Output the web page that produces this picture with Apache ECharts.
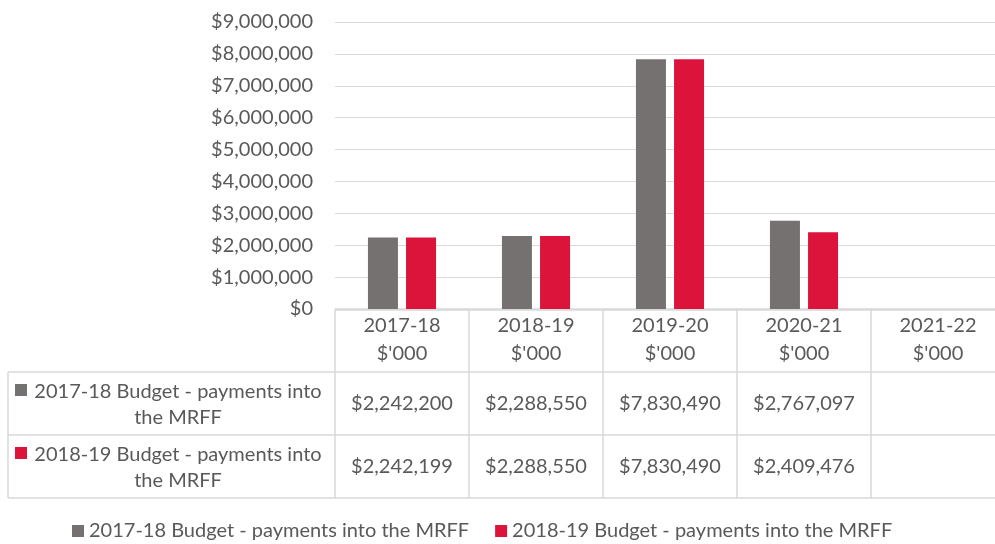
<!DOCTYPE html>
<html>
<head>
<meta charset="utf-8">
<script src="https://cdn.jsdelivr.net/npm/echarts@6/dist/echarts.min.js"></script>
<style>
  html, body { margin: 0; padding: 0; background: #fff; }
  #main { width: 995px; height: 544px; }
</style>
</head>
<body>
<div id="main"></div>
<script>
// data
var years = ['2017-18', '2018-19', '2019-20', '2020-21', '2021-22'];
var unitLabel = "$'000";
var seriesNames = [
  '2017-18 Budget - payments into the MRFF',
  '2018-19 Budget - payments into the MRFF'
];
var budget2017 = [2242200, 2288550, 7830490, 2767097, null];
var budget2018 = [2242199, 2288550, 7830490, 2409476, null];
var yMax = 9000000;
var yStep = 1000000;

var colors = ['#767171', '#DC143C'];
var textColor = '#595959';
var lineColor = '#d9d9d9';
var font = 'Lato';
var fontSize = 20;

function money(v) {
  if (v === null || v === undefined) return '';
  return '$' + v.toLocaleString('en-US');
}

var myChart = echarts.init(document.getElementById('main'));

var option = {
  animation: false,
  textStyle: { fontFamily: font },
  color: colors,
  // the table runs a little past the right edge, as in the original
  grid: { left: 335, top: 22, width: 670, height: 287, containLabel: false, outerBoundsMode: 'none' },
  legend: {
    left: 72,
    top: 521,
    padding: 0,
    icon: 'rect',
    itemWidth: 12,
    itemHeight: 12,
    itemGap: 26,
    textStyle: { color: textColor, fontSize: fontSize, fontFamily: font },
    data: seriesNames
  },
  xAxis: {
    type: 'category',
    data: years,
    axisTick: { show: false },
    axisLine: { show: true, lineStyle: { color: lineColor, width: 1.5 } },
    axisLabel: {
      color: textColor,
      fontSize: fontSize,
      lineHeight: 28,
      margin: 3,
      interval: 0,
      formatter: function (v) { return v + '\n' + unitLabel; }
    }
  },
  yAxis: {
    type: 'value',
    min: 0,
    max: yMax,
    interval: yStep,
    axisLine: { show: false },
    axisTick: { show: false },
    splitLine: { lineStyle: { color: lineColor, width: 1 } },
    axisLabel: {
      color: textColor,
      fontSize: fontSize,
      margin: 22,
      formatter: money
    }
  },
  series: [
    { name: seriesNames[0], type: 'bar', data: budget2017, barWidth: 30, barGap: '27%' },
    { name: seriesNames[1], type: 'bar', data: budget2018, barWidth: 30, barGap: '27%' }
  ]
};

myChart.setOption(option);

// data table under the axis, placed from the category scale
var c0 = myChart.convertToPixel({ xAxisIndex: 0 }, 0);
var c1 = myChart.convertToPixel({ xAxisIndex: 0 }, 1);
var band = c1 - c0;
var tableLeft = 8;
var headTop = 310;
var rowTops = [372, 435];
var rowH = 63;
var tableBottom = rowTops[1] + rowH;
var rows = [budget2017, budget2018];

var els = [];
function hLine(x1, x2, y) {
  els.push({ type: 'line', shape: { x1: x1, y1: y, x2: x2, y2: y },
    style: { stroke: lineColor, lineWidth: 1.5 }, silent: true });
}
function vLine(x, y1, y2) {
  els.push({ type: 'line', shape: { x1: x, y1: y1, x2: x, y2: y2 },
    style: { stroke: lineColor, lineWidth: 1.5 }, silent: true });
}

var colLeft = c0 - band / 2;
var colRight = colLeft + band * years.length;
hLine(colLeft, colRight, headTop);
hLine(tableLeft, colRight, rowTops[0]);
hLine(tableLeft, colRight, rowTops[1]);
hLine(tableLeft, colRight, tableBottom);
vLine(tableLeft, rowTops[0], tableBottom);
for (var i = 0; i <= years.length; i++) {
  vLine(colLeft + band * i, headTop, tableBottom);
}

rows.forEach(function (vals, r) {
  var top = rowTops[r];
  // legend key + series name
  els.push({ type: 'rect', shape: { x: 15, y: top + 12, width: 12, height: 12 },
    style: { fill: colors[r] }, silent: true });
  var nm = seriesNames[r];
  var cut = nm.lastIndexOf(' the');
  els.push({ type: 'text', x: 178, y: top + rowH / 2 + 1, silent: true,
    style: { text: nm.slice(0, cut) + '\n' + nm.slice(cut + 1), align: 'center', verticalAlign: 'middle',
      fill: textColor, font: fontSize + 'px ' + font, lineHeight: 26 } });
  vals.forEach(function (v, j) {
    var cx = myChart.convertToPixel({ xAxisIndex: 0 }, j);
    els.push({ type: 'text', x: cx, y: top + rowH / 2, silent: true,
      style: { text: money(v), align: 'center', verticalAlign: 'middle',
        fill: textColor, font: fontSize + 'px ' + font } });
  });
});

myChart.setOption({ graphic: { elements: els } });
</script>
</body>
</html>
